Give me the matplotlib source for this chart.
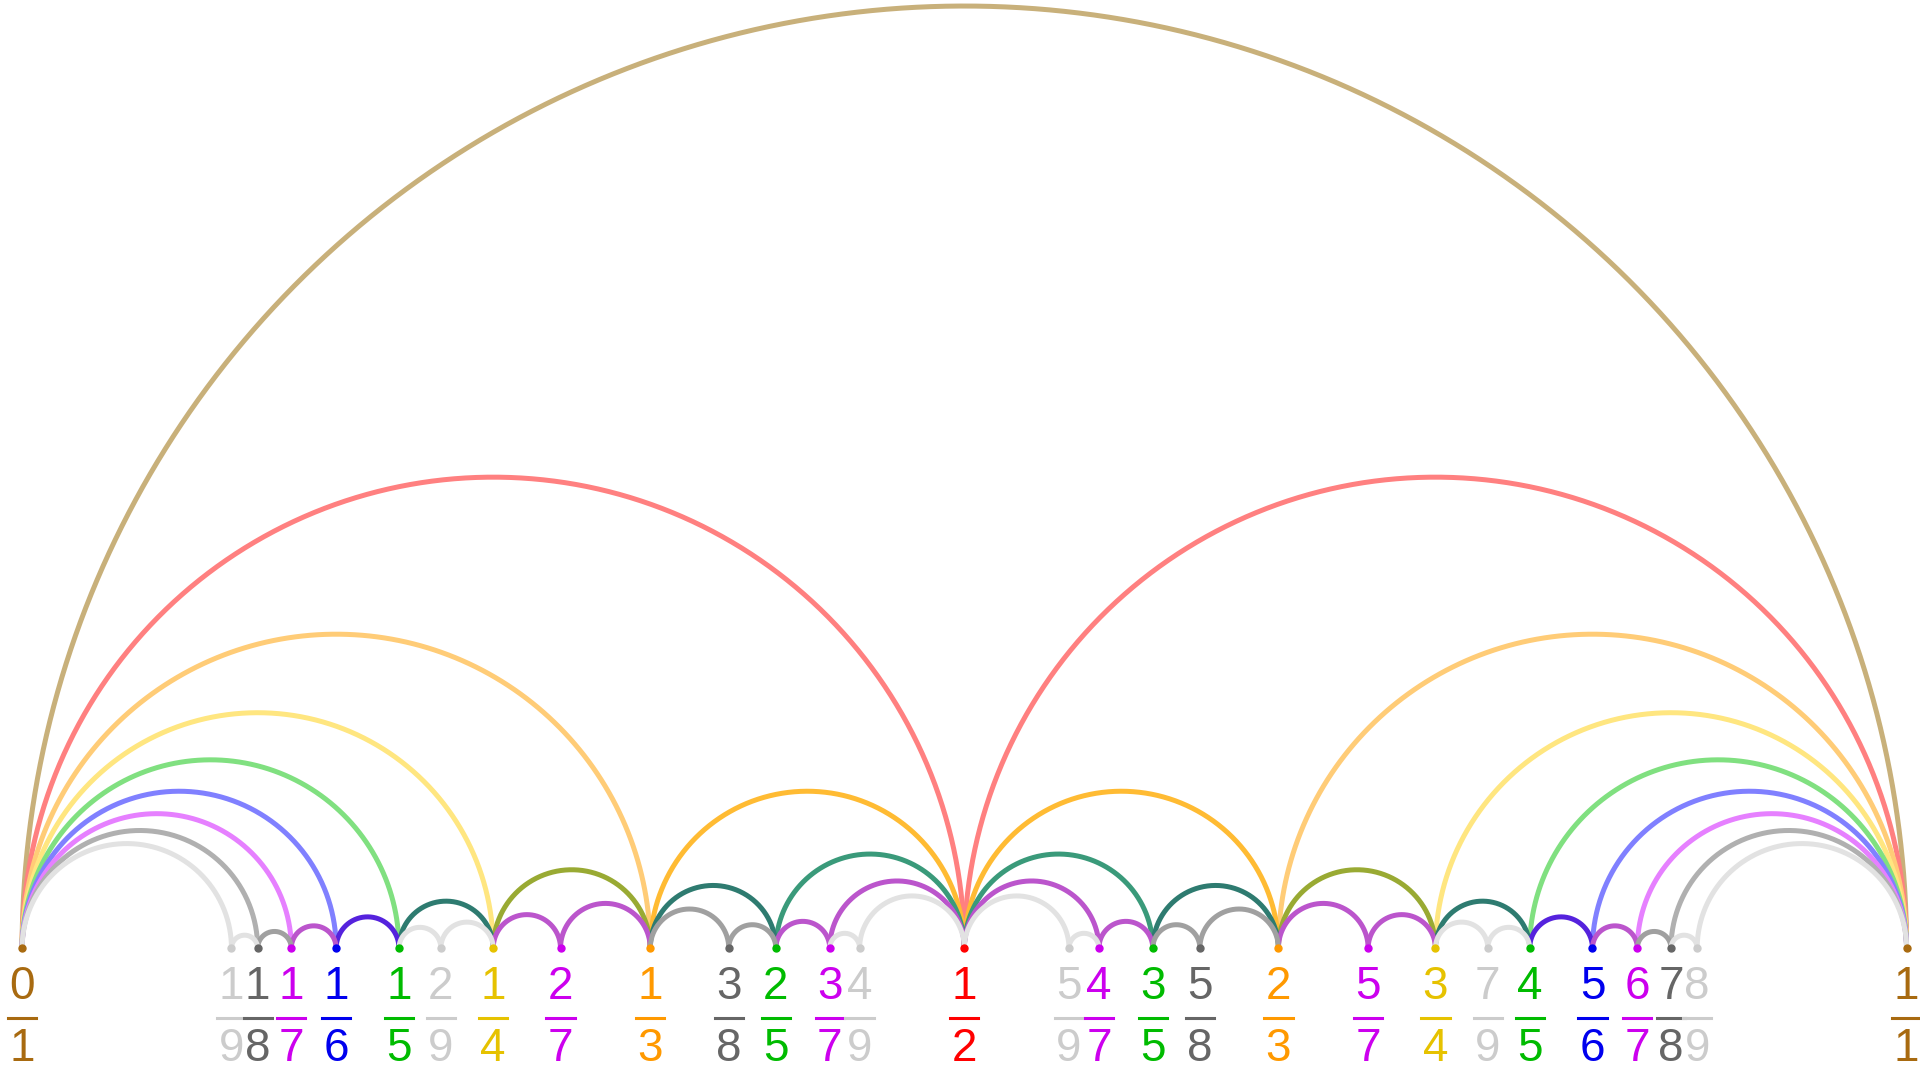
import matplotlib
matplotlib.use("Agg")
import matplotlib.pyplot as plt
import numpy as np
from fractions import Fraction
from math import gcd

N = 9
label_colors = {1: "#A86A10", 2: "#FF0000", 3: "#FF9900", 4: "#E6C200", 5: "#00BB00",
                6: "#0000EE", 7: "#CC00EE", 8: "#666666", 9: "#CCCCCC"}
light_arc = {1: "#C8B07A", 2: "#FF8080", 3: "#FFCC77", 4: "#FFE680", 5: "#80E080",
             6: "#8080FF", 7: "#E680FF", 8: "#B0B0B0", 9: "#E2E2E2"}
dark_arc = {3: "#FFBB33", 4: "#99AA33", 5: "#2E7B70", 6: "#5522DD", 7: "#BB55CC",
            8: "#A0A0A0", 9: "#E2E2E2"}
arc_25 = "#3A9A7A"

fracs = sorted({Fraction(a, b) for b in range(1, N + 1) for a in range(0, b + 1)})

# Farey neighbor pairs
pairs = []
for i, p in enumerate(fracs):
    for q in fracs[i + 1:]:
        if q.numerator * p.denominator - p.numerator * q.denominator == 1:
            pairs.append((p, q))

fig = plt.figure(figsize=(19.2, 10.8), dpi=100)
ax = fig.add_axes([0, 0, 1, 1])
ax.set_xlim(-0.01172, 1.00713)
ax.set_ylim(-0.0699, 0.5032)
ax.axis("off")

def arc_color(p, q):
    b, d = p.denominator, q.denominator
    m, o = max(b, d), min(b, d)
    if o == 1:
        return light_arc[m]
    if m == 5 and o == 2:
        return arc_25
    return dark_arc[m]

pairs.sort(key=lambda pq: -(pq[1] - pq[0]))
t = np.linspace(0, np.pi, 400)
for p, q in pairs:
    c = (float(p) + float(q)) / 2
    r = (float(q) - float(p)) / 2
    ax.plot(c + r * np.cos(t), r * np.sin(t), color=arc_color(p, q), lw=3.6,
            solid_capstyle="round", zorder=2)

fam = ["Liberation Sans Narrow", "Liberation Sans", "DejaVu Sans"]
for f in fracs:
    x = float(f)
    col = label_colors[f.denominator]
    ax.plot([x], [0], "o", ms=5, color=col, zorder=3)
    ax.text(x, -0.0205, str(f.numerator), ha="center", va="center", fontsize=33,
            color=col, family=fam)
    ax.text(x, -0.0535, str(f.denominator), ha="center", va="center", fontsize=33,
            color=col, family=fam)
    ax.plot([x - 0.0075, x + 0.0075], [-0.037, -0.037], color=col, lw=2.2)

fig.savefig("out.png", dpi=100)
